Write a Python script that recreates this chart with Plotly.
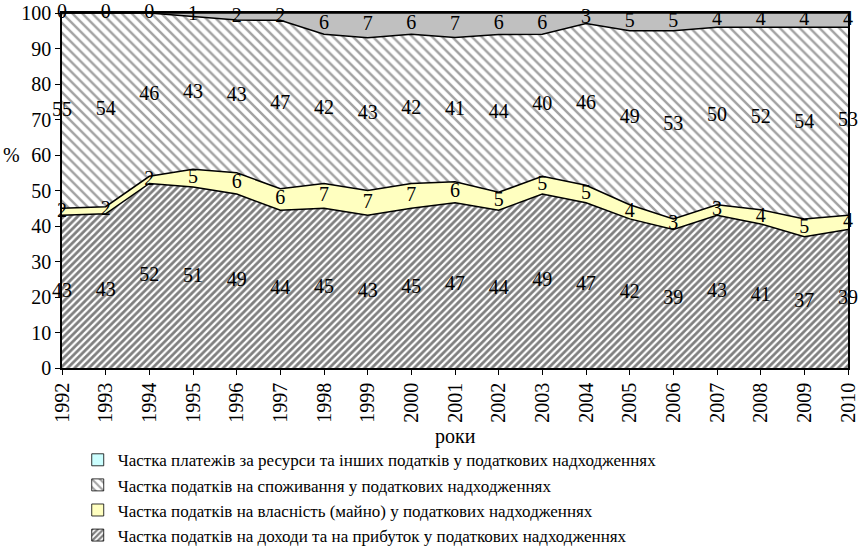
import numpy as np
import plotly.graph_objects as go

years = list(range(1992, 2011))

# частки (%) у податкових надходженнях
income = [43, 43, 52, 51, 49, 44, 45, 43, 45, 47, 44, 49, 47, 42, 39, 43, 41, 37, 39]
property_tax = [2, 2, 2, 5, 6, 6, 7, 7, 7, 6, 5, 5, 5, 4, 3, 3, 4, 5, 4]
consumption = [55, 54, 46, 43, 43, 47, 42, 43, 42, 41, 44, 40, 46, 49, 53, 50, 52, 54, 53]
resources = [0, 0, 0, 1, 2, 2, 6, 7, 6, 7, 6, 6, 3, 5, 5, 4, 4, 4, 4]

names = [
    "Частка податків на доходи та на прибуток у податкових надходженнях",
    "Частка податків на власність (майно) у податкових надходженнях",
    "Частка податків на споживання у податкових надходженнях",
    "Частка платежів за ресурси та інших податків у податкових надходженнях",
]

FONT = "Liberation Serif, Times New Roman, serif"

series = [income, property_tax, consumption, resources]
income_pat = dict(shape="/", fgcolor="black", bgcolor="white", size=5, solidity=0.55)
cons_pat = dict(shape="\\", fgcolor="#444444", bgcolor="white", size=7, solidity=0.35)
fills = [
    dict(fillcolor="white", fillpattern=income_pat),
    dict(fillcolor="#ffffc0"),
    dict(fillcolor="white", fillpattern=cons_pat),
    dict(fillcolor="#c0c0c0"),
]

fig = go.Figure()
for vals, name, f in zip(series, names, fills):
    fig.add_trace(go.Scatter(
        x=years, y=vals, name=name, mode="lines",
        stackgroup="one", groupnorm="percent", fill="tonexty",
        line=dict(color="black", width=1.5),
        hoverinfo="skip", showlegend=False,
        **f,
    ))

# легенда: маленькі квадрати
legend_marks = [
    dict(color="white", pattern=income_pat),
    dict(color="#ffffc0"),
    dict(color="white", pattern=cons_pat),
    dict(color="#ccffff"),
]
for name, m in zip(names, legend_marks):
    fig.add_trace(go.Bar(
        x=[None], y=[None], name=name,
        marker=dict(line=dict(color="black", width=0.8), **m),
    ))

# підписи значень посередині кожної смуги
arr = np.array(series, dtype=float)
norm = arr / arr.sum(axis=0) * 100
bottom = np.vstack([np.zeros(len(years)), np.cumsum(norm, axis=0)[:-1]])
mid = bottom + norm / 2
for i, vals in enumerate(series):
    fig.add_trace(go.Scatter(
        x=years, y=mid[i], mode="text", text=[str(v) for v in vals],
        textfont=dict(family=FONT, size=20, color="black"),
        showlegend=False, hoverinfo="skip", cliponaxis=False,
    ))

fig.update_layout(
    width=862, height=548,
    margin=dict(l=62, r=14, t=13, b=180),
    paper_bgcolor="white", plot_bgcolor="white",
    font=dict(family=FONT, size=20, color="black"),
    showlegend=True,
    legend=dict(
        orientation="v", traceorder="reversed",
        x=0.02, xanchor="left", xref="paper",
        y=0.193, yanchor="top", yref="container",
        font=dict(family=FONT, size=17),
        tracegroupgap=0, itemwidth=30,
    ),
    xaxis=dict(
        range=[1992, 2010], tickmode="array", tickvals=years,
        ticktext=[str(y) for y in years], tickangle=-90,
        showline=True, linecolor="black", linewidth=1.5, mirror=True,
        ticks="outside", ticklen=5, tickcolor="black",
        showgrid=False, zeroline=False, automargin=False,
    ),
    yaxis=dict(
        range=[0, 100], dtick=10,
        showline=True, linecolor="black", linewidth=1.5, mirror=True,
        ticks="outside", ticklen=5, tickcolor="black",
        showgrid=False, zeroline=False, automargin=False,
    ),
    annotations=[
        dict(text="%", x=-0.064, xref="paper", xanchor="center",
             y=0.6, yref="paper", showarrow=False,
             font=dict(family=FONT, size=20)),
        dict(text="роки", x=0.5, xref="paper", xanchor="center",
             y=-0.194, yref="paper", yanchor="middle", showarrow=False,
             font=dict(family=FONT, size=20)),
    ],
)

fig.write_html(
    "out.html",
    config={"displayModeBar": False},
    post_script="document.body.style.margin='0';",
)
